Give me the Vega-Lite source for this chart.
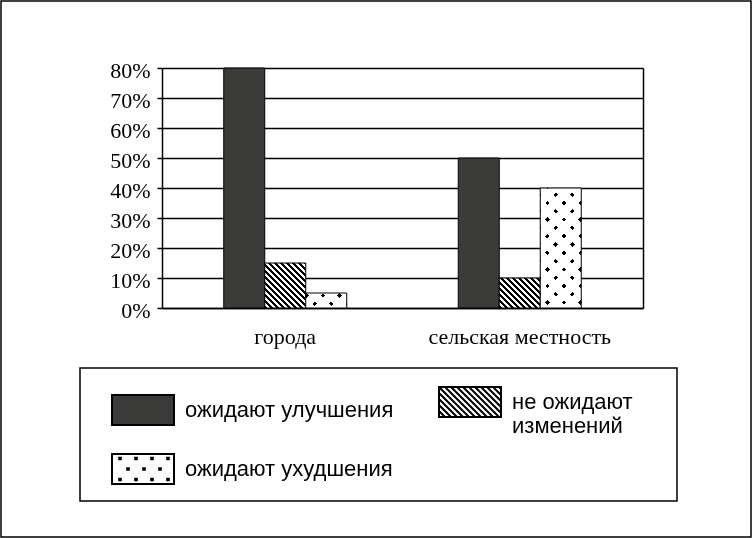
{
  "$schema": "https://vega.github.io/schema/vega-lite/v6.json",
  "width": 750,
  "height": 536,
  "autosize": "none",
  "padding": {"left": 1, "top": 1, "right": 1, "bottom": 1},
  "background": "white",
  "data": {
    "values": [
      {"group": "города", "series": "ожидают улучшения", "value": 0.8},
      {"group": "города", "series": "не ожидают изменений", "value": 0.15},
      {"group": "города", "series": "ожидают ухудшения", "value": 0.05},
      {"group": "сельская местность", "series": "ожидают улучшения", "value": 0.5},
      {"group": "сельская местность", "series": "не ожидают изменений", "value": 0.1},
      {"group": "сельская местность", "series": "ожидают ухудшения", "value": 0.4}
    ]
  },
  "encoding": {
    "x": {
      "field": "group", "type": "nominal",
      "scale": {"domain": ["города", "сельская местность"], "range": [161, 642], "paddingInner": 0.4755, "paddingOuter": 0.2633, "align": 0.5},
      "axis": {"orient": "bottom", "offset": -229, "title": null, "ticks": false, "tickSize": 0, "labelAngle": 0,
        "labelFont": "Liberation Serif", "labelFontSize": 22, "labelColor": "black", "labelBaseline": "alphabetic",
        "labelPadding": 35, "labelLimit": 400, "domainColor": "black", "domainWidth": 1.5, "grid": false}
    },
    "xOffset": {
      "field": "series", "type": "nominal",
      "scale": {"domain": ["ожидают улучшения", "не ожидают изменений", "ожидают ухудшения"], "paddingInner": 0, "paddingOuter": 0}
    }
  },
  "resolve": {"axis": {"y": "independent"}},
  "layer": [
    {
      "transform": [{"filter": "datum.series === 'ожидают улучшения'"}],
      "mark": {"type": "bar", "fill": "#3b3b39", "stroke": "black", "strokeWidth": 1},
      "encoding": {
        "y": {
          "field": "value", "type": "quantitative", "stack": null,
          "scale": {"domain": [0, 0.8], "range": [307, 67], "nice": false},
          "axis": {"orient": "left", "offset": -161, "title": null, "values": [0, 0.1, 0.2, 0.3, 0.4, 0.5, 0.6, 0.7, 0.8],
            "format": ".0%", "grid": true, "gridColor": "black", "gridWidth": 1.5, "gridOpacity": 1,
            "domainColor": "black", "domainWidth": 1.5, "tickColor": "black", "tickSize": 5, "tickWidth": 1.5,
            "labelFont": "Liberation Serif", "labelFontSize": 22, "labelColor": "black", "labelPadding": 7, "labelOffset": 2.5}
        }
      }
    },
    {
      "transform": [{"filter": "datum.series === 'не ожидают изменений'"}],
      "mark": {"type": "bar", "stroke": "black", "strokeWidth": 1},
      "encoding": {
        "y": {"field": "value", "type": "quantitative", "stack": null, "scale": {"domain": [0, 0.8], "range": [307, 67], "nice": false}, "axis": null},
        "fill": {
          "condition": {
            "test": "datum.group === 'города'",
            "value": {"gradient": "linear", "x1": 0, "y1": 1, "x2": 0.9514, "y2": -0.0443, "stops": [
              {"offset": 0, "color": "#000"}, {"offset": 0.0349, "color": "#000"}, {"offset": 0.0349, "color": "#fff"}, {"offset": 0.0698, "color": "#fff"},
              {"offset": 0.0698, "color": "#000"}, {"offset": 0.1047, "color": "#000"}, {"offset": 0.1047, "color": "#fff"}, {"offset": 0.1395, "color": "#fff"},
              {"offset": 0.1395, "color": "#000"}, {"offset": 0.1744, "color": "#000"}, {"offset": 0.1744, "color": "#fff"}, {"offset": 0.2093, "color": "#fff"},
              {"offset": 0.2093, "color": "#000"}, {"offset": 0.2442, "color": "#000"}, {"offset": 0.2442, "color": "#fff"}, {"offset": 0.2791, "color": "#fff"},
              {"offset": 0.2791, "color": "#000"}, {"offset": 0.314, "color": "#000"}, {"offset": 0.314, "color": "#fff"}, {"offset": 0.3488, "color": "#fff"},
              {"offset": 0.3488, "color": "#000"}, {"offset": 0.3837, "color": "#000"}, {"offset": 0.3837, "color": "#fff"}, {"offset": 0.4186, "color": "#fff"},
              {"offset": 0.4186, "color": "#000"}, {"offset": 0.4535, "color": "#000"}, {"offset": 0.4535, "color": "#fff"}, {"offset": 0.4884, "color": "#fff"},
              {"offset": 0.4884, "color": "#000"}, {"offset": 0.5233, "color": "#000"}, {"offset": 0.5233, "color": "#fff"}, {"offset": 0.5581, "color": "#fff"},
              {"offset": 0.5581, "color": "#000"}, {"offset": 0.593, "color": "#000"}, {"offset": 0.593, "color": "#fff"}, {"offset": 0.6279, "color": "#fff"},
              {"offset": 0.6279, "color": "#000"}, {"offset": 0.6628, "color": "#000"}, {"offset": 0.6628, "color": "#fff"}, {"offset": 0.6977, "color": "#fff"},
              {"offset": 0.6977, "color": "#000"}, {"offset": 0.7326, "color": "#000"}, {"offset": 0.7326, "color": "#fff"}, {"offset": 0.7674, "color": "#fff"},
              {"offset": 0.7674, "color": "#000"}, {"offset": 0.8023, "color": "#000"}, {"offset": 0.8023, "color": "#fff"}, {"offset": 0.8372, "color": "#fff"},
              {"offset": 0.8372, "color": "#000"}, {"offset": 0.8721, "color": "#000"}, {"offset": 0.8721, "color": "#fff"}, {"offset": 0.907, "color": "#fff"},
              {"offset": 0.907, "color": "#000"}, {"offset": 0.9419, "color": "#000"}, {"offset": 0.9419, "color": "#fff"}, {"offset": 0.9767, "color": "#fff"},
              {"offset": 0.9767, "color": "#000"}, {"offset": 1, "color": "#000"}
            ]}
          },
          "value": {"gradient": "linear", "x1": 0, "y1": 1, "x2": 1.1279, "y2": 0.1747, "stops": [
            {"offset": 0, "color": "#000"}, {"offset": 0.0423, "color": "#000"}, {"offset": 0.0423, "color": "#fff"}, {"offset": 0.0845, "color": "#fff"},
            {"offset": 0.0845, "color": "#000"}, {"offset": 0.1268, "color": "#000"}, {"offset": 0.1268, "color": "#fff"}, {"offset": 0.169, "color": "#fff"},
            {"offset": 0.169, "color": "#000"}, {"offset": 0.2113, "color": "#000"}, {"offset": 0.2113, "color": "#fff"}, {"offset": 0.2535, "color": "#fff"},
            {"offset": 0.2535, "color": "#000"}, {"offset": 0.2958, "color": "#000"}, {"offset": 0.2958, "color": "#fff"}, {"offset": 0.338, "color": "#fff"},
            {"offset": 0.338, "color": "#000"}, {"offset": 0.3803, "color": "#000"}, {"offset": 0.3803, "color": "#fff"}, {"offset": 0.4225, "color": "#fff"},
            {"offset": 0.4225, "color": "#000"}, {"offset": 0.4648, "color": "#000"}, {"offset": 0.4648, "color": "#fff"}, {"offset": 0.507, "color": "#fff"},
            {"offset": 0.507, "color": "#000"}, {"offset": 0.5493, "color": "#000"}, {"offset": 0.5493, "color": "#fff"}, {"offset": 0.5915, "color": "#fff"},
            {"offset": 0.5915, "color": "#000"}, {"offset": 0.6338, "color": "#000"}, {"offset": 0.6338, "color": "#fff"}, {"offset": 0.6761, "color": "#fff"},
            {"offset": 0.6761, "color": "#000"}, {"offset": 0.7183, "color": "#000"}, {"offset": 0.7183, "color": "#fff"}, {"offset": 0.7606, "color": "#fff"},
            {"offset": 0.7606, "color": "#000"}, {"offset": 0.8028, "color": "#000"}, {"offset": 0.8028, "color": "#fff"}, {"offset": 0.8451, "color": "#fff"},
            {"offset": 0.8451, "color": "#000"}, {"offset": 0.8873, "color": "#000"}, {"offset": 0.8873, "color": "#fff"}, {"offset": 0.9296, "color": "#fff"},
            {"offset": 0.9296, "color": "#000"}, {"offset": 0.9718, "color": "#000"}, {"offset": 0.9718, "color": "#fff"}, {"offset": 1, "color": "#fff"}
          ]}
        }
      }
    },
    {
      "transform": [{"filter": "datum.series === 'ожидают ухудшения'"}],
      "mark": {"type": "bar", "strokeWidth": 0},
      "encoding": {
        "y": {"field": "value", "type": "quantitative", "stack": null, "scale": {"domain": [0, 0.8], "range": [307, 67], "nice": false}, "axis": null},
        "fill": {
          "condition": {
            "test": "datum.group === 'города'",
            "value": {"gradient": "linear", "x1": 0, "y1": 0, "x2": 1.2046, "y2": 0.4407, "stops": [
              {"offset": 0, "color": "#fff"}, {"offset": 0.0143, "color": "#fff"}, {"offset": 0.0143, "color": "#000"}, {"offset": 0.0964, "color": "#000"},
              {"offset": 0.0964, "color": "#fff"}, {"offset": 0.3107, "color": "#fff"}, {"offset": 0.3107, "color": "#000"}, {"offset": 0.3929, "color": "#000"},
              {"offset": 0.3929, "color": "#fff"}, {"offset": 0.6071, "color": "#fff"}, {"offset": 0.6071, "color": "#000"}, {"offset": 0.6893, "color": "#000"},
              {"offset": 0.6893, "color": "#fff"}, {"offset": 0.9036, "color": "#fff"}, {"offset": 0.9036, "color": "#000"}, {"offset": 0.9857, "color": "#000"},
              {"offset": 0.9857, "color": "#fff"}, {"offset": 1, "color": "#fff"}
            ]}
          },
          "value": {"gradient": "linear", "x1": 0, "y1": 0, "x2": 0.4105, "y2": 1.2014, "stops": [
            {"offset": 0, "color": "#fff"}, {"offset": 0.0199, "color": "#fff"}, {"offset": 0.0199, "color": "#000"}, {"offset": 0.0484, "color": "#000"},
            {"offset": 0.0484, "color": "#fff"}, {"offset": 0.123, "color": "#fff"}, {"offset": 0.123, "color": "#000"}, {"offset": 0.1516, "color": "#000"},
            {"offset": 0.1516, "color": "#fff"}, {"offset": 0.2261, "color": "#fff"}, {"offset": 0.2261, "color": "#000"}, {"offset": 0.2547, "color": "#000"},
            {"offset": 0.2547, "color": "#fff"}, {"offset": 0.3292, "color": "#fff"}, {"offset": 0.3292, "color": "#000"}, {"offset": 0.3578, "color": "#000"},
            {"offset": 0.3578, "color": "#fff"}, {"offset": 0.4323, "color": "#fff"}, {"offset": 0.4323, "color": "#000"}, {"offset": 0.4609, "color": "#000"},
            {"offset": 0.4609, "color": "#fff"}, {"offset": 0.5354, "color": "#fff"}, {"offset": 0.5354, "color": "#000"}, {"offset": 0.564, "color": "#000"},
            {"offset": 0.564, "color": "#fff"}, {"offset": 0.6385, "color": "#fff"}, {"offset": 0.6385, "color": "#000"}, {"offset": 0.6671, "color": "#000"},
            {"offset": 0.6671, "color": "#fff"}, {"offset": 0.7416, "color": "#fff"}, {"offset": 0.7416, "color": "#000"}, {"offset": 0.7702, "color": "#000"},
            {"offset": 0.7702, "color": "#fff"}, {"offset": 0.8447, "color": "#fff"}, {"offset": 0.8447, "color": "#000"}, {"offset": 0.8733, "color": "#000"},
            {"offset": 0.8733, "color": "#fff"}, {"offset": 0.9478, "color": "#fff"}, {"offset": 0.9478, "color": "#000"}, {"offset": 0.9764, "color": "#000"},
            {"offset": 0.9764, "color": "#fff"}, {"offset": 1, "color": "#fff"}
          ]}
        }
      }
    },
    {
      "transform": [{"filter": "datum.series === 'ожидают ухудшения'"}],
      "mark": {"type": "bar", "strokeWidth": 0, "blend": "lighten"},
      "encoding": {
        "y": {"field": "value", "type": "quantitative", "stack": null, "scale": {"domain": [0, 0.8], "range": [307, 67], "nice": false}, "axis": null},
        "fill": {
          "condition": {
            "test": "datum.group === 'города'",
            "value": {"gradient": "linear", "x1": 0, "y1": 1, "x2": 1.2046, "y2": 0.5593, "stops": [
              {"offset": 0, "color": "#fff"}, {"offset": 0.1964, "color": "#fff"}, {"offset": 0.1964, "color": "#000"}, {"offset": 0.2786, "color": "#000"},
              {"offset": 0.2786, "color": "#fff"}, {"offset": 0.4929, "color": "#fff"}, {"offset": 0.4929, "color": "#000"}, {"offset": 0.575, "color": "#000"},
              {"offset": 0.575, "color": "#fff"}, {"offset": 0.7893, "color": "#fff"}, {"offset": 0.7893, "color": "#000"}, {"offset": 0.8714, "color": "#000"},
              {"offset": 0.8714, "color": "#fff"}, {"offset": 1, "color": "#fff"}
            ]}
          },
          "value": {"gradient": "linear", "x1": 0, "y1": 1, "x2": 0.4105, "y2": -0.2014, "stops": [
            {"offset": 0, "color": "#fff"}, {"offset": 0.0634, "color": "#fff"}, {"offset": 0.0634, "color": "#000"}, {"offset": 0.0919, "color": "#000"},
            {"offset": 0.0919, "color": "#fff"}, {"offset": 0.1665, "color": "#fff"}, {"offset": 0.1665, "color": "#000"}, {"offset": 0.195, "color": "#000"},
            {"offset": 0.195, "color": "#fff"}, {"offset": 0.2696, "color": "#fff"}, {"offset": 0.2696, "color": "#000"}, {"offset": 0.2981, "color": "#000"},
            {"offset": 0.2981, "color": "#fff"}, {"offset": 0.3727, "color": "#fff"}, {"offset": 0.3727, "color": "#000"}, {"offset": 0.4012, "color": "#000"},
            {"offset": 0.4012, "color": "#fff"}, {"offset": 0.4758, "color": "#fff"}, {"offset": 0.4758, "color": "#000"}, {"offset": 0.5043, "color": "#000"},
            {"offset": 0.5043, "color": "#fff"}, {"offset": 0.5789, "color": "#fff"}, {"offset": 0.5789, "color": "#000"}, {"offset": 0.6075, "color": "#000"},
            {"offset": 0.6075, "color": "#fff"}, {"offset": 0.682, "color": "#fff"}, {"offset": 0.682, "color": "#000"}, {"offset": 0.7106, "color": "#000"},
            {"offset": 0.7106, "color": "#fff"}, {"offset": 0.7851, "color": "#fff"}, {"offset": 0.7851, "color": "#000"}, {"offset": 0.8137, "color": "#000"},
            {"offset": 0.8137, "color": "#fff"}, {"offset": 0.8882, "color": "#fff"}, {"offset": 0.8882, "color": "#000"}, {"offset": 0.9168, "color": "#000"},
            {"offset": 0.9168, "color": "#fff"}, {"offset": 1, "color": "#fff"}
          ]}
        }
      }
    },
    {
      "transform": [{"filter": "datum.series === 'ожидают ухудшения'"}],
      "mark": {"type": "bar", "fill": "white", "fillOpacity": 0, "stroke": "black", "strokeWidth": 1},
      "encoding": {
        "y": {
          "field": "value", "type": "quantitative", "stack": null,
          "scale": {"domain": [0, 0.8], "range": [307, 67], "nice": false},
          "axis": {"orient": "right", "offset": -108, "title": null, "labels": false, "ticks": false, "grid": false,
            "domain": true, "domainColor": "black", "domainWidth": 1.5}
        }
      }
    },
    {
      "transform": [{"filter": "false"}],
      "mark": {"type": "point", "filled": true, "opacity": 1, "strokeWidth": 2},
      "encoding": {
        "fill": {
          "field": "series", "type": "nominal",
          "scale": {"domain": ["ожидают улучшения", "не ожидают изменений", "ожидают ухудшения"], "range": ["#3b3b39", "#ffffff", "#ffffff"]},
          "legend": {"orient": "none", "legendX": 79, "legendY": 367, "direction": "horizontal", "columns": 2,
            "title": " ", "titleOrient": "right", "titlePadding": 42, "padding": 2,
            "strokeColor": "black", "fillColor": "white", "symbolSize": 3844, "symbolOffset": 29, "symbolStrokeWidth": 2,
            "labelOffset": 10, "labelFont": "Liberation Sans", "labelFontSize": 22, "labelColor": "black", "labelLimit": 400,
            "columnPadding": 15, "rowPadding": 0,
            "labelExpr": "datum.label == 'не ожидают изменений' ? ['не ожидают', 'изменений'] : datum.label"}
        },
        "stroke": {
          "field": "series", "type": "nominal",
          "scale": {"domain": ["ожидают улучшения", "не ожидают изменений", "ожидают ухудшения"], "range": ["#000000", "#000000", "#000000"]},
          "legend": {"orient": "none", "legendX": 79, "legendY": 367, "direction": "horizontal", "columns": 2,
            "title": " ", "titleOrient": "right", "titlePadding": 42, "padding": 2,
            "strokeColor": "black", "fillColor": "white", "symbolSize": 3844, "symbolOffset": 29, "symbolStrokeWidth": 2,
            "labelOffset": 10, "labelFont": "Liberation Sans", "labelFontSize": 22, "labelColor": "black", "labelLimit": 400,
            "columnPadding": 15, "rowPadding": 0,
            "labelExpr": "datum.label == 'не ожидают изменений' ? ['не ожидают', 'изменений'] : datum.label"}
        },
        "shape": {
          "field": "series", "type": "nominal",
          "scale": {"domain": ["ожидают улучшения", "не ожидают изменений", "ожидают ухудшения"], "range": [
            "M-1,-0.4839H1V0.4839H-1Z",
            "M-1,-0.4839H1V0.4839H-1ZM-1,0.2903L-0.8065,0.4839M-1,0.0968L-0.6129,0.4839M-1,-0.0968L-0.4194,0.4839M-1,-0.2903L-0.2258,0.4839M-1,-0.4839L-0.0323,0.4839M-0.8065,-0.4839L0.1613,0.4839M-0.6129,-0.4839L0.3548,0.4839M-0.4194,-0.4839L0.5484,0.4839M-0.2258,-0.4839L0.7419,0.4839M-0.0323,-0.4839L0.9355,0.4839M0.1613,-0.4839L1,0.3548M0.3548,-0.4839L1,0.1613M0.5484,-0.4839L1,-0.0323M0.7419,-0.4839L1,-0.2258M0.9355,-0.4839L1,-0.4194",
            "M-1,-0.4839H1V0.4839H-1ZM-0.7677,-0.3645h0.0516v0.0516h-0.0516ZM-0.2516,-0.3645h0.0516v0.0516h-0.0516ZM0.2645,-0.3645h0.0516v0.0516h-0.0516ZM0.7807,-0.3645h0.0516v0.0516h-0.0516ZM-0.5097,-0.0258h0.0516v0.0516h-0.0516ZM0.0065,-0.0258h0.0516v0.0516h-0.0516ZM0.5226,-0.0258h0.0516v0.0516h-0.0516ZM-0.7677,0.3129h0.0516v0.0516h-0.0516ZM-0.2516,0.3129h0.0516v0.0516h-0.0516ZM0.2645,0.3129h0.0516v0.0516h-0.0516ZM0.7807,0.3129h0.0516v0.0516h-0.0516ZM0,0.81"
          ]},
          "legend": {"orient": "none", "legendX": 79, "legendY": 367, "direction": "horizontal", "columns": 2,
            "title": " ", "titleOrient": "right", "titlePadding": 42, "padding": 2,
            "strokeColor": "black", "fillColor": "white", "symbolSize": 3844, "symbolOffset": 29, "symbolStrokeWidth": 2,
            "labelOffset": 10, "labelFont": "Liberation Sans", "labelFontSize": 22, "labelColor": "black", "labelLimit": 400,
            "columnPadding": 15, "rowPadding": 0,
            "labelExpr": "datum.label == 'не ожидают изменений' ? ['не ожидают', 'изменений'] : datum.label"}
        }
      }
    }
  ],
  "config": {
    "view": {"stroke": "black", "strokeWidth": 1.5},
    "legend": {"strokeWidth": 1.5}
  }
}
